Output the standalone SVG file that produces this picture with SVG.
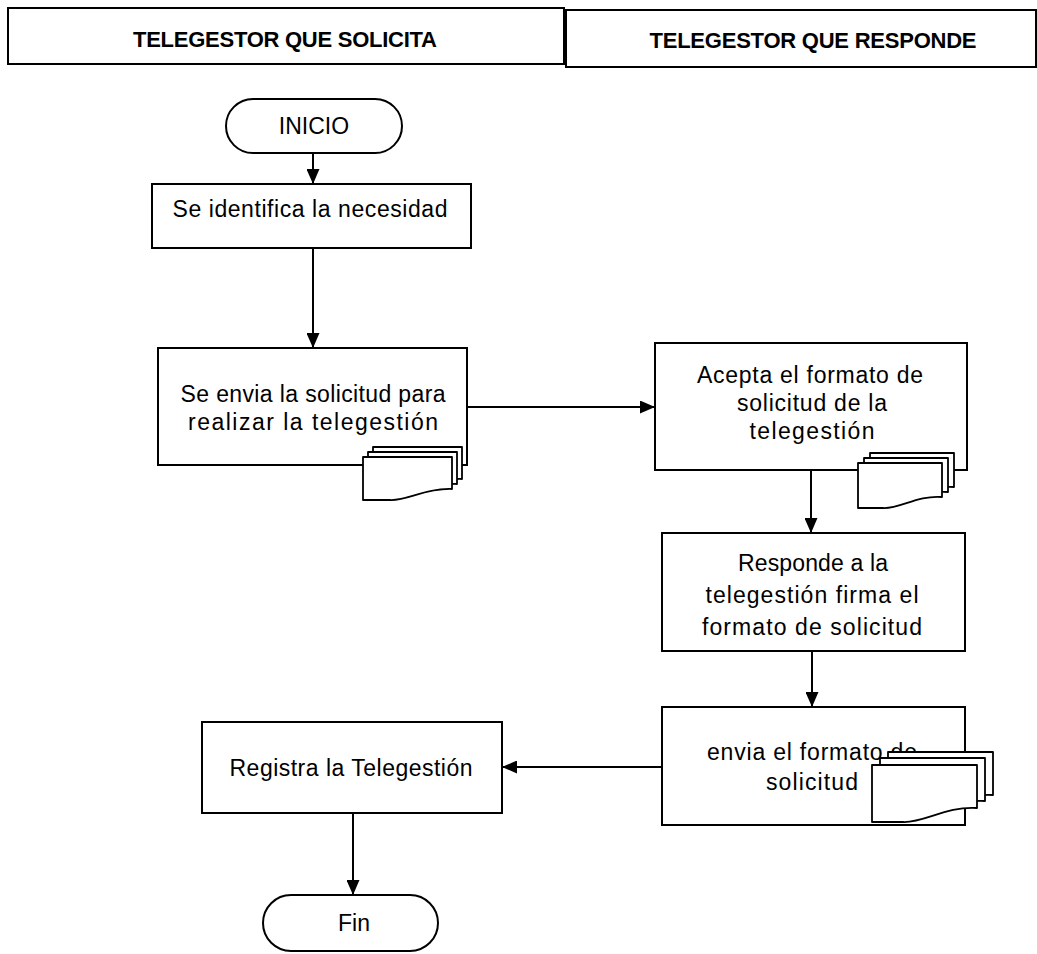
<svg xmlns="http://www.w3.org/2000/svg" width="1037" height="954" viewBox="0 0 1037 954">
<style>
.box{fill:#fff;stroke:#000;stroke-width:2}
.doc{fill:#fff;stroke:#000;stroke-width:1.8;stroke-linejoin:round}
.t{font-family:"Liberation Sans",Arial,sans-serif;font-size:23px;fill:#000;text-anchor:middle}
.h{font-family:"Liberation Sans",Arial,sans-serif;font-size:22px;font-weight:bold;fill:#000;text-anchor:middle}
.c{fill:none;stroke:#000;stroke-width:2}
</style>
<defs>
<marker id="arr" markerUnits="userSpaceOnUse" markerWidth="15" markerHeight="13" refX="15" refY="6.5" orient="auto">
<path d="M0,0 L15,6.5 L0,13 Z" fill="#000"/>
</marker>
</defs>
<rect width="1037" height="954" fill="#fff"/>
<g id="header-solicita">
<rect class="box" x="8" y="8" width="556" height="56"/>
<text class="h" x="285" y="47" textLength="304">TELEGESTOR QUE SOLICITA</text>
</g>
<g id="header-responde">
<rect class="box" x="566" y="10" width="470" height="57"/>
<text class="h" x="813" y="48" textLength="327">TELEGESTOR QUE RESPONDE</text>
</g>
<g id="connectors">
<path class="c" d="M313,153 V184" marker-end="url(#arr)"/>
<path class="c" d="M313,248 V348" marker-end="url(#arr)"/>
<path class="c" d="M467,407 H655" marker-end="url(#arr)"/>
<path class="c" d="M811,470 V533" marker-end="url(#arr)"/>
<path class="c" d="M812,651 V707" marker-end="url(#arr)"/>
<path class="c" d="M662,767 H502" marker-end="url(#arr)"/>
<path class="c" d="M353,813 V895" marker-end="url(#arr)"/>
</g>
<g id="inicio">
<rect class="box" x="226" y="99" width="176" height="54" rx="27"/>
<text class="t" x="314" y="134">INICIO</text>
</g>
<g id="identifica">
<rect class="box" x="152" y="184" width="319" height="64"/>
<text class="t" x="310" y="217" textLength="275">Se identifica la necesidad</text>
</g>
<g id="envia-solicitud">
<rect class="box" x="158" y="348" width="309" height="117"/>
<text class="t" x="313" y="402" textLength="265">Se envia la solicitud para</text>
<text class="t" x="313" y="430" textLength="250">realizar la telegestión</text>
<path class="doc" d="M373,447 H462 V479 C435,478 417,491 400,490 H373 Z"/>
<path class="doc" d="M368,452 H457 V484 C430,483 412,496 395,495 H368 Z"/>
<path class="doc" d="M363,457 H452 V489 C425,488 407,501 390,500 H363 Z"/>
</g>
<g id="acepta">
<rect class="box" x="655" y="343" width="312" height="127"/>
<text class="t" x="810" y="383" textLength="226">Acepta el formato de</text>
<text class="t" x="812" y="411" textLength="150">solicitud de la</text>
<text class="t" x="812" y="439" textLength="125">telegestión</text>
<path class="doc" d="M870,453 H954 V487 C929,485 912,499 895,498 H870 Z"/>
<path class="doc" d="M864,458 H948 V492 C923,490 906,504 889,503 H864 Z"/>
<path class="doc" d="M858,463 H942 V497 C917,495 900,509 883,508 H858 Z"/>
</g>
<g id="responde">
<rect class="box" x="662" y="533" width="303" height="118"/>
<text class="t" x="813" y="571" textLength="150">Responde a la</text>
<text class="t" x="812" y="603" textLength="213">telegestión firma el</text>
<text class="t" x="812" y="635" textLength="220">formato de solicitud</text>
</g>
<g id="envia-formato">
<rect class="box" x="662" y="707" width="303" height="118"/>
<text class="t" x="812" y="760" textLength="210">envia el formato de</text>
<text class="t" x="812" y="790" textLength="92">solicitud</text>
<path class="doc" d="M888,752 H993 V795 C962,793 940,810 919,809 H888 Z"/>
<path class="doc" d="M880,758 H985 V801 C954,799 932,816 911,815 H880 Z"/>
<path class="doc" d="M872,765 H977 V808 C946,806 924,823 903,822 H872 Z"/>
</g>
<g id="registra">
<rect class="box" x="202" y="722" width="300" height="91"/>
<text class="t" x="351" y="776" textLength="243">Registra la Telegestión</text>
</g>
<g id="fin">
<rect class="box" x="263" y="895" width="175" height="56" rx="28"/>
<text class="t" x="354" y="931">Fin</text>
</g>
</svg>
